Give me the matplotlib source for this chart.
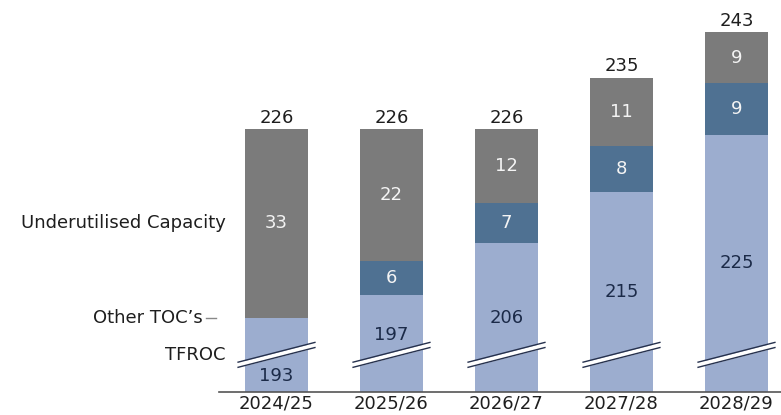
import matplotlib
matplotlib.use("Agg")
import matplotlib.pyplot as plt

categories = ["2024/25", "2025/26", "2026/27", "2027/28", "2028/29"]
tfroc = [193, 197, 206, 215, 225]
other_tocs = [0, 6, 7, 8, 9]
underutilised = [33, 22, 12, 11, 9]
totals = [226, 226, 226, 235, 243]

C_GRAY = "#7b7b7b"
C_BLUE = "#4f7192"
C_LIGHT = "#9cadcf"
C_DARK_TXT = "#1b2a48"
C_WHITE_TXT = "#f4f4f4"
C_TXT = "#1e1e1e"

YMIN, YMAX = 180, 248.6
BREAK_Y = 186.5

fig = plt.figure(figsize=(7.81, 4.15), dpi=100)
ax = fig.add_axes([219 / 781, 23 / 415, 1 - 219 / 781, 392 / 415])
ax.set_xlim(-0.5, 4.387)
ax.set_ylim(YMIN, YMAX)

x = list(range(len(categories)))
w = 0.55
base = [YMIN] * len(x)
gray_h = [t - YMIN for t in totals]
blue_h = [a + b - YMIN for a, b in zip(tfroc, other_tocs)]
light_h = [a - YMIN for a in tfroc]

ax.bar(x, gray_h, w, bottom=base, color=C_GRAY, zorder=2)
ax.bar(x, blue_h, w, bottom=base, color=C_BLUE, zorder=3)
ax.bar(x, light_h, w, bottom=base, color=C_LIGHT, zorder=4)

fs = 13
fw = "normal"
for i in x:
    top_toc = tfroc[i] + other_tocs[i]
    ax.text(i, totals[i] + 0.4, str(totals[i]), ha="center", va="bottom",
            fontsize=fs, color=C_TXT, fontweight=fw, zorder=6)
    ax.text(i, (top_toc + totals[i]) / 2, str(underutilised[i]), ha="center",
            va="center", fontsize=fs, color=C_WHITE_TXT, fontweight=fw, zorder=6)
    if other_tocs[i] > 0:
        ax.text(i, tfroc[i] + other_tocs[i] / 2, str(other_tocs[i]), ha="center",
                va="center", fontsize=fs, color=C_WHITE_TXT, fontweight=fw, zorder=6)
    gap = tfroc[i] - BREAK_Y
    if gap < 8:
        ly = (YMIN + BREAK_Y) / 2 - 0.5
    elif gap < 12:
        ly = (YMIN + tfroc[i]) / 2 + 1.5
    else:
        ly = (YMIN + tfroc[i]) / 2
    ax.text(i, ly, str(tfroc[i]), ha="center", va="center", fontsize=fs,
            color=C_DARK_TXT, fontweight=fw, zorder=6)
    # axis break marks
    dx, dy, off = 0.34, 1.76, 0.45
    xs = [i - dx, i + dx]
    ys = [BREAK_Y - dy, BREAK_Y + dy]
    ax.fill_between(xs, [ys[0] - off, ys[1] - off], [ys[0] + off, ys[1] + off],
                    color="white", zorder=5, lw=0)
    for s in (-off, off):
        ax.plot(xs, [ys[0] + s, ys[1] + s], color="#26314d", lw=1.0, zorder=5,
                solid_capstyle="butt")

ax.axhline(YMIN, color="#555555", lw=1.2, zorder=7, clip_on=False)

for sp in ax.spines.values():
    sp.set_visible(False)
ax.set_yticks([])
ax.set_xticks(x)
ax.set_xticklabels(categories, fontsize=fs, color=C_TXT, fontweight=fw)
ax.tick_params(axis="x", length=0, pad=2)

ax.text(-0.44, (tfroc[0] + totals[0]) / 2, "Underutilised Capacity", ha="right",
        va="center", fontsize=fs, color=C_TXT, fontweight=fw, clip_on=False)
ax.text(-0.64, tfroc[0], "Other TOC’s", ha="right", va="center", fontsize=fs,
        color=C_TXT, fontweight=fw, clip_on=False)
ax.plot([-0.61, -0.53], [tfroc[0], tfroc[0]], color="#888888", lw=1, clip_on=False)
ax.text(-0.44, BREAK_Y, "TFROC", ha="right", va="center", fontsize=fs,
        color=C_TXT, fontweight=fw, clip_on=False)

fig.savefig("out.png", dpi=100)
